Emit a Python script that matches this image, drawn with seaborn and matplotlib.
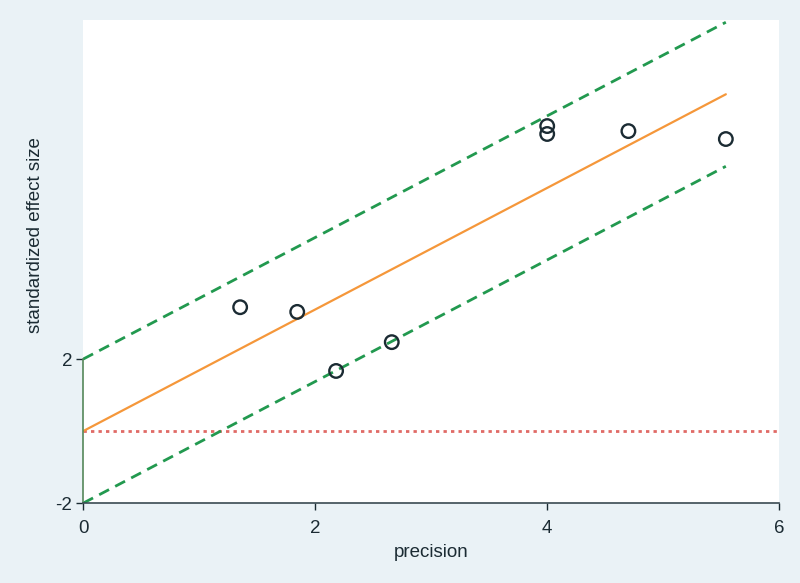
import numpy as np
import pandas as pd
import matplotlib
matplotlib.use("Agg")
import matplotlib.pyplot as plt
import seaborn as sns

# Points (précision, effet standardisé)
precision = [1.353, 1.845, 2.18, 2.66, 4.00, 4.00, 4.70, 5.54]
effect = [3.44, 3.31, 1.67, 2.47, 8.47, 8.25, 8.33, 8.11]
x_ticks = [0, 2, 4, 6]
y_ticks = [-2, 2]

df = pd.DataFrame({"precision": precision, "effect": effect})

# Droite de régression passant par l'origine (Galbraith)
slope = (df["precision"] * df["effect"]).sum() / (df["precision"] ** 2).sum()
xs = np.array([0, df["precision"].max()])
fit = pd.DataFrame({"x": xs, "mid": slope * xs, "up": slope * xs + 2, "low": slope * xs - 2})

sns.set_theme(style="white")
plt.rcParams["font.family"] = ["Liberation Sans", "DejaVu Sans"]
plt.rcParams["axes.unicode_minus"] = False

bg = "#eaf2f6"
ink = "#1b2b33"
fig = plt.figure(figsize=(8, 5.83), dpi=100, facecolor=bg)
ax = fig.add_axes([0.104, 0.137, 0.87, 0.829])
ax.set_facecolor("white")

ax.axhline(0, color="#e06a66", lw=2, ls=(0, (1.2, 1.5)), zorder=1)
sns.lineplot(data=fit, x="x", y="up", ax=ax, color="#22994f", lw=2, ls=(0, (4, 2.5)), zorder=2)
sns.lineplot(data=fit, x="x", y="low", ax=ax, color="#22994f", lw=2, ls=(0, (4, 2.5)), zorder=2)
sns.lineplot(data=fit, x="x", y="mid", ax=ax, color="#f5973a", lw=1.6, zorder=2)
sns.scatterplot(data=df, x="precision", y="effect", ax=ax, s=95, facecolor="none",
                edgecolor=ink, linewidth=1.7, zorder=3)

ax.set_xlim(0, 6)
ax.set_ylim(-2, 11.42)
ax.set_xticks(x_ticks)
ax.set_yticks(y_ticks)
ax.set_xlabel("precision", fontsize=13.5, color=ink, labelpad=5)
ax.set_ylabel("standardized effect size", fontsize=13.5, color=ink)
ax.yaxis.set_label_coords(-0.057, 0.555)
ax.tick_params(axis="both", direction="out", length=5, width=1, colors=ink,
               labelsize=13.5, bottom=True, left=True)
ax.tick_params(axis="x", pad=7)
ax.tick_params(axis="y", pad=3)

for s in ["top", "right"]:
    ax.spines[s].set_visible(False)
ax.spines["left"].set_bounds(-2, 2)
ax.spines["left"].set_color("#55885a")
ax.spines["left"].set_linewidth(1.2)
ax.spines["bottom"].set_color("#3a4a52")
ax.spines["bottom"].set_linewidth(1.2)

fig.savefig("out.png", dpi=100, facecolor=bg)
